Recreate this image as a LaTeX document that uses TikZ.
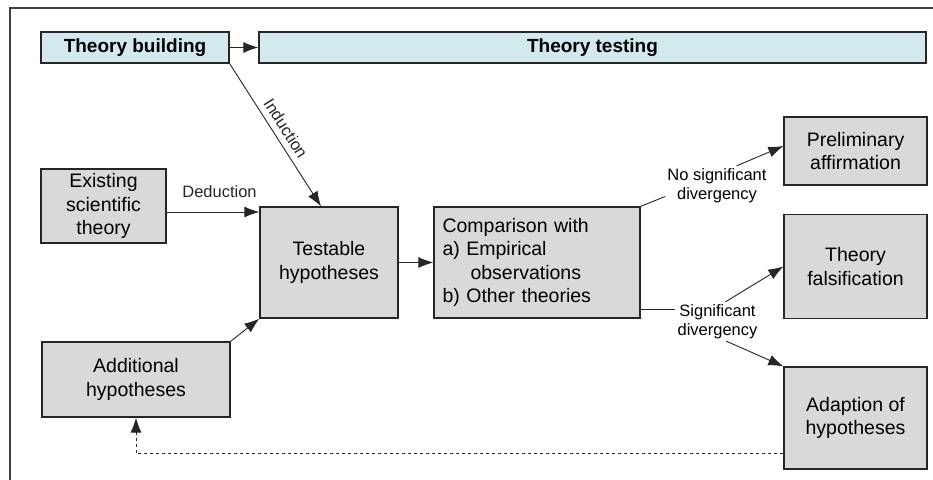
\documentclass[tikz,border=0pt]{standalone}
\usepackage{fontspec}
\setmainfont{Liberation Sans}
\usepackage{tikz}
\usetikzlibrary{arrows.meta}
\usetikzlibrary{calc}
\tikzset{>={Latex[length=15pt,width=11pt]}}
\definecolor{mygray}{HTML}{D9D9D9}
\definecolor{myblue}{HTML}{D2E9EE}
\definecolor{myline}{HTML}{262626}
\newcommand{\boxfont}{\fontsize{19.5}{23.5}\selectfont}
\newcommand{\lblfont}{\fontsize{16.5}{19.5}\selectfont}
\tikzset{
  block/.style={draw=myline, fill=mygray, line width=1.3pt, align=center, inner sep=0pt, font=\boxfont},
  header/.style={draw=myline, fill=myblue, line width=1.3pt, inner sep=0pt, minimum height=31pt, font=\fontsize{19}{23}\selectfont\bfseries},
  lbl/.style={align=center, inner sep=2pt, font=\lblfont},
  conn/.style={line width=0.9pt, myline}
}

\begin{document}
\begin{tikzpicture}[x=1pt,y=-1pt]
		\useasboundingbox (0,0) rectangle (933,479);
		\draw[line width=1.6pt, black!75] (10,485) -- (10,8) -- (940,8);

		\node[header, minimum width=188pt] (build) at (135,47.5) {Theory building};
		\node[header, minimum width=667pt] (testing) at (592.5,47.5) {Theory testing};

		\node[block, minimum width=125pt, minimum height=74pt] (exist) at (103.5,206) {Existing\\scientific\\theory};
		\node[block, minimum width=138pt, minimum height=111pt] (test) at (329,262.5) {Testable\\hypotheses};
		\node[block, minimum width=188pt, minimum height=75pt] (addh) at (136,379.5) {Additional\\hypotheses};
		\node[block, minimum width=206pt, minimum height=111pt, text width=189pt, inner xsep=8.5pt, align=left] (cmp) at (537,262.5)
			{Comparison with\\a) Empirical\\\hspace*{28pt}observations\\b) Other theories};
		\node[block, minimum width=143pt, minimum height=68pt] (pre) at (855.5,151) {Preliminary\\affirmation};
		\node[block, minimum width=143pt, minimum height=104pt] (fal) at (855.5,266.5) {Theory\\falsification};
		\node[block, minimum width=143pt, minimum height=102pt] (adp) at (855.5,418) {Adaption of\\hypotheses};

		\node[lbl] (nosig) at (717,185.5) {No significant\\divergency};
		\node[lbl] (sig) at (717.5,321.5) {Significant\\divergency};

		\draw[conn,->] (build) -- (testing);
		\draw[conn,->] (build.south east) -- ($(test.north)+(-8,0)$) node[lbl, pos=0.5, above=4pt, sloped] {Induction};
		\draw[conn,->] ($(exist.east)+(0,6)$) -- ($(exist.east -| test.west)+(0,6)$) node[lbl, pos=0.57, above=12pt] {Deduction};
		\draw[conn,->] (addh.north east) -- (test.south west);
		\draw[conn,->] (test) -- (cmp);
		\draw[conn] (cmp.north east) -- (nosig.192);
		\draw[conn,->] (nosig.45) -- ($(pre.west)+(0,-5)$);
		\draw[conn] (sig.164 -| cmp.east) -- (sig.164);
		\draw[conn,->] (sig.68) -- (fal.west);
		\draw[conn,->] (sig.-66) -- (adp.north west);
		\draw[conn,->,dashed] ($(adp.south west)+(0,-16)$) -| (addh.south);
	\end{tikzpicture}
\end{document}
